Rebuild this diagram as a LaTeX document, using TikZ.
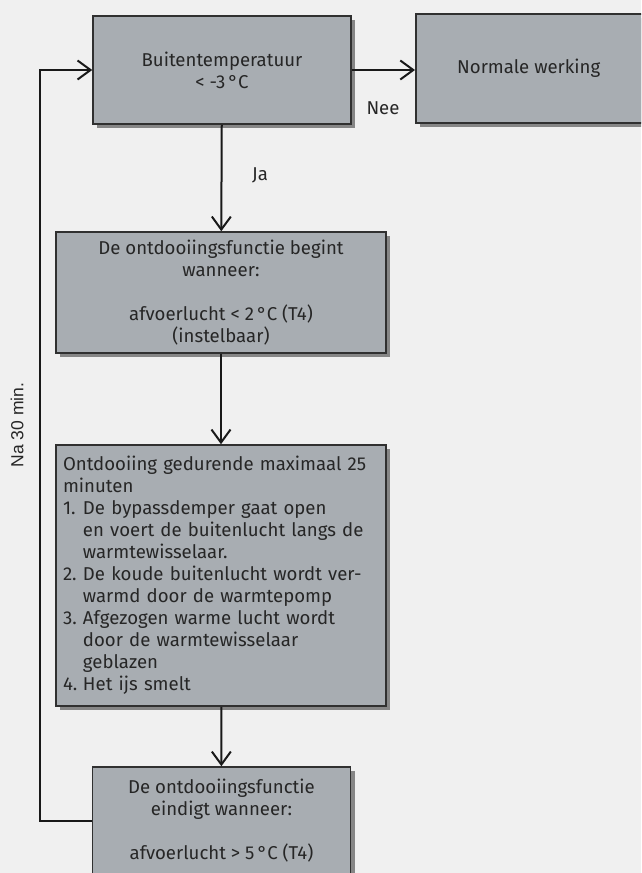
\documentclass[tikz,border=0pt]{standalone}
\usepackage{fontspec}
\setmainfont{Fira Sans}
\newfontfamily\labelfont{Liberation Sans}
\usepackage{tikz}
\usetikzlibrary{arrows.meta, shadows, positioning, calc}

\definecolor{boxgray}{HTML}{A8ADB2}
\definecolor{bggray}{HTML}{F0F0F0}
\definecolor{edgegray}{HTML}{303030}

\newcommand{\itemno}[1]{\makebox[20pt][l]{#1}}

\begin{document}
\begin{tikzpicture}[
    x=1pt, y=-1pt,
    line width=2pt,
    every node/.style={inner sep=2pt},
    stepbox/.style={draw=edgegray, line width=1.5pt, fill=boxgray, align=center,
                    font=\fontsize{18.6}{22}\selectfont, text=black!85,
                    drop shadow={shadow xshift=4pt, shadow yshift=-4pt, opacity=0.6, fill=black!75}},
    listbox/.style={stepbox, align=left},
    arrow/.style={-{Straight Barb[length=13pt, width=19pt, line width=2pt]}, draw=black!90},
    ann/.style={inner sep=1pt, font=\fontsize{18.6}{22}\selectfont, text=black!85}
]

% ================= Canvas =================
\useasboundingbox (0,0) rectangle (641,873);
\fill[bggray] (0,0) rectangle (641,873);
\clip (0,0) rectangle (641,873);

% ================= Boxes =================
\node[stepbox, minimum width=258pt, minimum height=108pt] (temp) at (222,70)
    {Buitentemperatuur\\ < -3\,°C};
\node[stepbox, minimum width=250pt, minimum height=109pt, anchor=west] (normal) at (415,68.5)
    {\hspace*{-24pt}Normale werking};

\node[stepbox, minimum width=330pt, minimum height=121pt] (start) at (221,292.5)
    {De ontdooiingsfunctie begint\\ wanneer:\\[22pt] afvoerlucht < 2\,°C (T4)\\ (instelbaar)};

\node[listbox, minimum width=330pt, minimum height=261pt, text width=316pt] (defrost) at (221,575.5)
    {Ontdooiing gedurende maximaal 25\\
     minuten\\
     \itemno{1.}De bypassdemper gaat open\\
     \itemno{}en voert de buitenlucht langs de\\
     \itemno{}warmtewisselaar.\\
     \itemno{2.}De koude buitenlucht wordt ver-\\
     \itemno{}warmd door de warmtepomp\\
     \itemno{3.}Afgezogen warme lucht wordt\\
     \itemno{}door de warmtewisselaar\\
     \itemno{}geblazen\\
     \itemno{4.}Het ijs smelt};

\node[stepbox, minimum width=258pt, minimum height=108pt] (stop) at (221.5,821)
    {De ontdooiingsfunctie\\ eindigt wanneer:\\[22pt] afvoerlucht > 5\,°C (T4)};

% ================= Labels =================
\node[ann] (nee) at (383,108) {Nee};
\node[ann] (ja) at (260,175) {Ja};
\node[inner sep=1pt, rotate=90, font=\labelfont\fontsize{17.5}{20}\selectfont, text=black!85] (wait) at (17,425) {Na 30 min.};

% ================= Arrows =================
\coordinate (loop) at (40,0);
\draw[arrow] (temp.east) -- (normal.west |- temp.east);
\draw[arrow] (temp) -- (start);
\draw[arrow] (start) -- (defrost);
\draw[arrow] (defrost) -- (stop);
\draw[arrow] (stop.west) -| (loop |- temp.west) -- (temp.west);

\end{tikzpicture}
\end{document}
